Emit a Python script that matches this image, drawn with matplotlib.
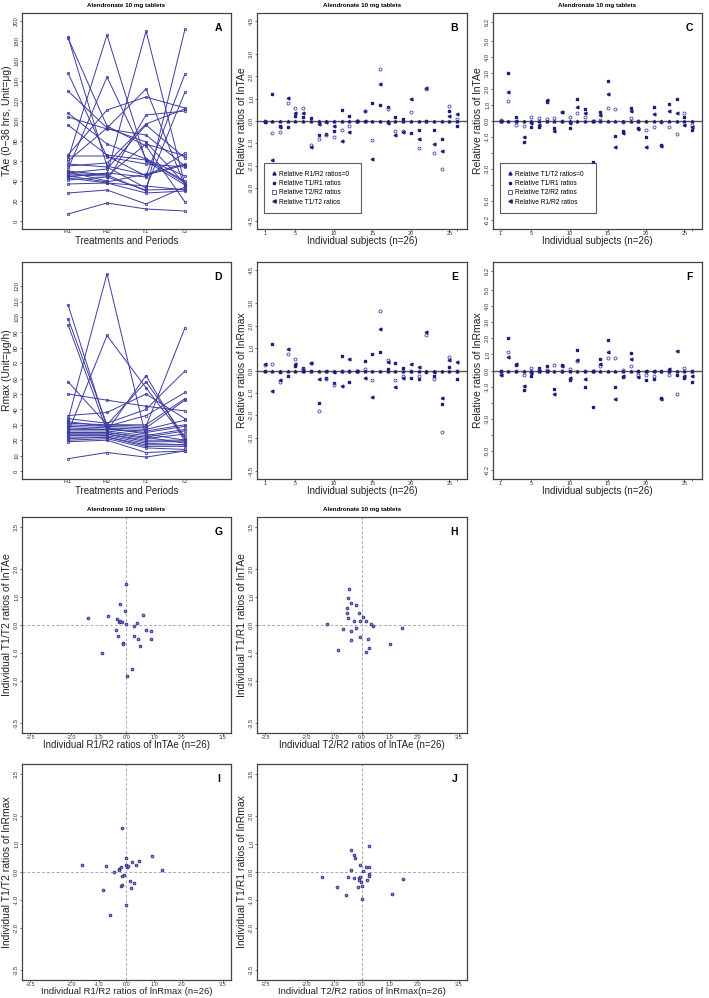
import matplotlib
matplotlib.use('Agg')
import matplotlib.pyplot as plt
from matplotlib.lines import Line2D

plt.rcParams['font.family'] = ['Liberation Sans', 'DejaVu Sans']

# ---------------- data ----------------
periods = ['R1', 'R2', 'T1', 'T2']
subjects = list(range(1, 27))

# Panel A: TAe (0-36 h, ug) per subject and period
tae_R1 = [184, 183, 148, 130, 108, 104, 96, 62, 52, 66, 60, 47, 50, 65, 57, 55, 49, 48, 46, 45, 44, 43, 41, 37, 28, 7]
tae_R2 = [55, 95, 64, 93, 77, 92, 66, 186, 144, 111, 93, 47, 46, 65, 54, 58, 40, 52, 45, 39, 48, 38, 44, 38, 31, 18]
tae_T1 = [46, 75, 57, 79, 62, 86, 61, 60, 62, 124, 132, 190, 30, 45, 33, 97, 106, 96, 77, 47, 44, 35, 31, 28, 17, 12]
tae_T2 = [56, 19, 54, 37, 45, 55, 40, 36, 38, 113, 35, 36, 192, 147, 129, 112, 110, 63, 65, 57, 68, 31, 32, 30, 34, 10]

# Panel D: Rmax (ug/h)
rmax_R1 = [108, 99, 95, 33, 25, 58, 50, 36, 34, 32, 31, 30, 29, 28, 27, 26, 25, 25, 24, 24, 23, 22, 21, 20, 19, 8]
rmax_R2 = [28, 30, 26, 128, 88, 30, 46, 38, 31, 29, 30, 29, 28, 27, 27, 26, 25, 25, 24, 24, 23, 22, 22, 21, 20, 12]
rmax_T1 = [24, 58, 62, 22, 54, 29, 42, 50, 40, 36, 30, 28, 27, 26, 25, 23, 22, 21, 20, 19, 18, 17, 16, 15, 12, 9]
rmax_T2 = [20, 22, 19, 18, 21, 93, 39, 34, 65, 51, 47, 46, 33, 30, 29, 27, 26, 24, 20, 19, 17, 17, 16, 14, 13, 13]

# Panel B: relative ratios of lnTAe (R1/R2 reference = 0)
b_T1R1 = [-0.03, 1.2, -0.22, -0.25, 0.22, 0.16, 0.12, -0.63, -0.58, -0.43, 0.49, 0.24, 0.0, 0.46, 0.82, 0.7, 0.61, 0.19, 0.07, -0.55, -0.4, -0.02, -0.4, -0.82, 0.46, -0.22]
b_T2R2 = [-0.02, -0.55, -0.48, 0.8, 0.6, 0.57, -1.07, -0.82, -0.61, -0.7, -0.4, -0.22, 0.0, 0.45, -0.87, 2.33, 0.52, -0.43, -0.43, 0.42, -1.21, 1.42, -1.45, -2.15, 0.67, 0.07]
b_T1T2 = [-0.04, -1.75, -0.25, 1.05, 0.38, 0.38, -1.18, -0.13, -0.03, -0.22, -0.88, -0.48, 0.0, -0.02, -1.69, 1.64, -0.07, -0.63, -0.48, 1.0, -0.82, 1.46, -1.03, -1.33, 0.22, 0.3]

# Panel C: relative ratios of lnTAe (T1/T2 reference = 0)
c_T1R1 = [0.0, 3.0, 0.27, -1.29, -0.4, -0.4, 1.2, -0.46, 0.58, -0.44, 1.37, 0.73, -2.58, 0.58, 2.52, -0.94, -0.63, 0.79, -0.42, -0.98, 0.85, -1.5, 1.06, 1.37, 0.27, -0.56]
c_T2R2 = [0.06, 1.25, -0.25, -0.31, 0.23, 0.17, 0.1, 0.17, 0.0, 0.27, 0.48, 0.23, 0.0, 0.06, 0.83, 0.75, -0.08, 0.17, 0.0, -0.56, -0.4, -0.04, -0.4, -0.81, 0.48, -0.25]
c_R1R2 = [0.0, 1.79, 0.02, -0.98, -0.1, -0.25, 1.31, -0.62, 0.54, -0.1, 0.9, 0.48, 0.0, 0.38, 1.69, -1.6, -0.73, 0.65, -0.5, -1.6, 0.42, -1.54, 0.65, 0.52, -0.25, -0.35]

# Panel E: relative ratios of lnRmax (R1/R2 reference = 0)
e_T1R1 = [0.0, 1.2, -0.08, -0.23, 0.2, 0.12, 0.0, -1.46, -0.35, -0.56, 0.65, -0.5, 0.0, 0.42, 0.75, 0.83, 0.08, 0.32, 0.12, -0.33, -0.4, -0.06, -0.26, -1.49, 0.15, -0.36]
e_T2R2 = [0.24, 0.27, -0.53, 0.72, 0.5, 0.05, 0.32, -1.83, -0.36, -0.66, -0.03, 0.0, 0.0, 0.08, -0.44, 2.65, 0.47, -0.44, -0.23, -0.03, -0.26, 1.6, -0.36, -2.74, 0.6, 0.0]
e_T1T2 = [0.27, -0.9, -0.44, 0.95, 0.3, -0.03, 0.35, -0.36, 0.0, -0.06, -0.68, 0.53, 0.0, -0.33, -1.19, 1.85, 0.38, -0.75, -0.33, 0.27, 0.15, 1.7, -0.06, -1.23, 0.45, 0.39]

# Panel F: relative ratios of lnRmax (T1/T2 reference = 0)
f_T1R1 = [0.0, 2.04, 0.35, -1.22, -0.33, 0.14, 0.29, -1.12, 0.33, -0.57, 1.27, -1.04, -2.3, 0.71, 1.88, -1.04, -0.41, 1.06, -0.06, -0.57, -0.53, -1.69, 0.0, -0.29, -0.47, -0.73]
f_T2R2 = [-0.2, 1.16, -0.06, -0.27, 0.18, 0.04, 0.02, 0.35, 0.0, 0.08, 0.6, 0.0, 0.0, 0.31, 0.76, 0.8, 0.04, 0.29, -0.27, -0.27, -0.37, -0.06, -0.27, -1.49, 0.14, 0.0]
f_R1R2 = [-0.3, 0.86, 0.41, -0.94, -0.16, 0.0, 0.0, -1.49, 0.29, -0.47, 0.65, -0.51, 0.0, 0.41, 1.16, -1.8, -0.33, 0.71, -0.41, 0.0, -0.06, -1.8, 0.1, 1.22, -0.33, -0.37]

# Panels G-J: individual ratio pairs
g_x = [-1.39, -0.66, -0.36, -0.28, -0.23, -0.16, -0.25, 0.0, 0.27, 0.39, 0.59, 0.70, 0.89, 0.90, -0.38, -0.31, 0.27, 0.42, 0.49, -0.14, -0.11, -0.88, 0.21, 0.03, 0.0, -0.05]
g_y = [0.25, 0.32, 0.23, 0.11, 0.13, 0.11, 0.76, 0.02, -0.04, 0.08, 0.37, -0.19, -0.21, -0.51, -0.19, -0.39, -0.39, -0.51, -0.75, -0.63, -0.69, -0.99, -1.56, -1.82, 1.46, 0.5]
h_x = [-1.27, -0.56, -0.56, -0.51, -0.30, -0.12, -0.06, 0.16, 0.34, 0.39, -0.67, -0.40, -0.22, -0.06, 0.22, -0.39, -0.88, 0.15, 0.27, 1.03, 1.44, -0.46, -0.5, -0.4, -0.2, 0.05]
h_y = [0.02, 0.61, 0.44, 0.26, 0.13, 0.44, 0.14, 0.14, 0.05, -0.03, -0.15, -0.21, -0.11, -0.42, -0.5, -0.54, -0.9, -0.97, -0.83, -0.69, -0.09, 1.27, 0.95, 0.8, 0.7, 0.3]
i_x = [-0.15, -1.6, -0.75, -0.02, 0.19, 0.44, 0.93, 0.34, -0.03, 0.03, -0.2, -0.26, -0.28, -0.44, 1.3, -0.15, -0.08, 0.13, 0.29, -0.2, -0.16, 0.16, -0.87, 0.0, -0.59, 0.05]
i_y = [1.57, 0.26, 0.23, 0.5, 0.35, 0.39, 0.56, 0.24, 0.26, 0.18, 0.18, 0.12, 0.06, 0.0, 0.06, -0.14, -0.12, -0.33, -0.4, -0.51, -0.47, -0.57, -0.63, -1.19, -1.52, 0.2]
j_x = [0.27, -0.4, -0.3, -0.24, -0.06, 0.15, 0.24, -0.39, 0.04, 0.27, 0.24, 0.19, -1.43, -0.52, -0.28, -0.12, -0.07, -0.03, -0.91, -0.15, -0.01, -0.57, 1.09, 0.0, 1.48, -0.1]
j_y = [0.92, 0.77, 0.62, 0.5, 0.26, 0.18, 0.17, 0.08, 0.05, -0.07, -0.15, -0.29, -0.19, -0.19, -0.22, -0.22, -0.17, -0.36, -0.55, -0.55, -0.51, -0.81, -0.79, -0.96, -0.24, -0.3]

# ---------------- styles ----------------
NAVY = '#1f1f7a'
LINEC = '#3c3ca0'
FRAME = '#444444'
TITLE = 'Alendronate 10 mg tablets'
W, H = 709, 998
fig = plt.figure(figsize=(W / 100, H / 100), dpi=100)


def add_ax(x0, y0, x1, y1):
    ax = fig.add_axes([x0 / W, 1 - y1 / H, (x1 - x0) / W, (y1 - y0) / H])
    for s in ax.spines.values():
        s.set_color(FRAME)
        s.set_linewidth(0.9)
    ax.tick_params(length=1.5, width=0.5, pad=0.6, labelsize=4.2, colors='#333333')
    ax.tick_params(axis='x', pad=0.2, labelsize=4.0)
    return ax, (x0, y0, x1, y1)


def ftext(x, y, s, **kw):
    fig.text(x / W, 1 - y / H, s, **kw)


def decorate(ax, box, letter, xlabel, ylabel, title=True, yl_size=7.5, xl_size=7, xl_off=7):
    x0, y0, x1, y1 = box
    if title:
        ftext((x0 + x1) / 2, y0 - 8, TITLE, ha='center', va='center', fontsize=4.5, fontweight='bold')
    ax.text(0.94, 0.93, letter, transform=ax.transAxes, ha='center', va='center',
            fontsize=7.5, fontweight='bold')
    ftext((x0 + x1) / 2, y1 + xl_off, xlabel, ha='center', va='top', fontsize=xl_size, color='#222222')
    ftext(x0 - 15, (y0 + y1) / 2, ylabel, ha='center', va='center', rotation=90, fontsize=yl_size,
          color='#222222')
    for lab in ax.get_yticklabels():
        lab.set_rotation(90)
        lab.set_va('center')


def profile_panel(box_px, series, yticks, ylim, letter, ylabel, title):
    ax, box = add_ax(*box_px)
    xs = [1, 2, 3, 4]
    for vals in zip(*series):
        ax.plot(xs, vals, color=LINEC, lw=0.7, marker='o', ms=1.7, mfc='none', mec=LINEC, mew=0.6)
    ax.set_xlim(-0.18, 5.18)
    ax.set_ylim(*ylim)
    ax.set_xticks(xs)
    ax.set_xticklabels(periods)
    ax.set_yticks(yticks)
    ax.set_yticklabels([str(v) for v in yticks])
    ax.tick_params(axis='x', length=0, pad=0.3, labelsize=4.6)
    decorate(ax, box, letter, 'Treatments and Periods', ylabel, title=title)
    return ax


def ratio_panel(box_px, zero_label, s_dot, s_open, s_tri, labels, yticks, ylabels, ylim, letter, ylabel,
                title, legend):
    ax, box = add_ax(*box_px)
    ax.axhline(0, color='#555555', lw=1.0, zorder=1)
    zeros = [0.0] * len(subjects)
    ax.plot(subjects, s_dot, ls='none', marker='s', ms=1.5, mfc=NAVY, mec=NAVY, zorder=3)
    ax.plot(subjects, s_open, ls='none', marker='o', ms=2.2, mfc='none', mec='#4646aa', mew=0.6, zorder=3)
    ax.plot(subjects, s_tri, ls='none', marker='<', ms=2.0, mfc=NAVY, mec=NAVY, zorder=3)
    ax.plot(subjects, zeros, ls='none', marker='^', ms=1.9, mfc=NAVY, mec=NAVY, zorder=4)
    ax.set_xlim(0.0, 27.3)
    ax.set_ylim(*ylim)
    ax.set_xticks([1, 5, 10, 15, 20, 25, 26])
    ax.set_xticklabels(['1', '5', '10', '15', '20', '25', ''])
    ax.set_yticks(yticks)
    ax.set_yticklabels(ylabels)
    if legend:
        handles = [
            Line2D([], [], ls='none', marker='^', ms=2.2, mfc=NAVY, mec=NAVY),
            Line2D([], [], ls='none', marker='s', ms=1.7, mfc=NAVY, mec=NAVY),
            Line2D([], [], ls='none', marker='s', ms=2.2, mfc='none', mec='#4646aa', mew=0.6),
            Line2D([], [], ls='none', marker='<', ms=2.4, mfc=NAVY, mec=NAVY),
        ]
        leg = ax.legend(handles, [zero_label] + labels, loc='lower left',
                        bbox_to_anchor=(0.033, 0.074, 0.46, 0.213), mode='expand',
                        fontsize=4.8, frameon=True, fancybox=False, borderpad=1.1,
                        labelspacing=0.35, handlelength=0.8, handletextpad=0.4, borderaxespad=0)
        leg.get_frame().set_edgecolor('#333333')
        leg.get_frame().set_linewidth(0.8)
    decorate(ax, box, letter, 'Individual subjects (n=26)', ylabel, title=title)
    return ax


def scatter_panel(box_px, xs, ys, letter, xlabel, ylabel, title, xl_size=7):
    ax, box = add_ax(*box_px)
    ax.axhline(0, color='#aaaaaa', lw=0.7, ls=(0, (3, 2)), zorder=1)
    ax.axvline(0, color='#aaaaaa', lw=0.7, ls=(0, (3, 2)), zorder=1)
    ax.plot(xs, ys, ls='none', marker='o', ms=2.0, mfc='#8080c8', mec='#2a2a88', mew=0.6, zorder=3)
    ax.set_xlim(-3.8, 3.8)
    ax.set_ylim(-3.85, 3.85)
    t = [-3.5, -2.0, -1.0, 0.0, 1.0, 2.0, 3.5]
    ax.set_xticks(t)
    ax.set_xticklabels([f'{v:.1f}' for v in t])
    ax.set_yticks(t)
    ax.set_yticklabels([f'{v:.1f}' for v in t])
    decorate(ax, box, letter, xlabel, ylabel, title=title, yl_size=7.5, xl_size=xl_size)
    return ax


# ---------------- panels ----------------
profile_panel((22, 13, 231, 229), [tae_R1, tae_R2, tae_T1, tae_T2], list(range(0, 201, 20)), (-8, 208),
              'A', 'TAe (0\u221236 hrs, Unit=\u03bcg)', True)
profile_panel((22, 262, 231, 479), [rmax_R1, rmax_R2, rmax_T1, rmax_T2], list(range(0, 121, 10)),
              (-5.2, 135.7), 'D', 'Rmax (Unit=\u03bcg/h)', False)

yt_b = [-4.5, -3.0, -2.0, -1.0, 0.0, 1.0, 2.0, 3.0, 4.5]
yl_b = [f'{v:.1f}' for v in yt_b]
yt_c = [-6.2, -5.0, -4.0, -3.0, -2.0, -1.0, 0.0, 1.0, 2.0, 3.0, 4.0, 5.0, 6.2]
yl_c = ['-6.2', '-5.0', '', '-3.0', '', '-1.0', '0.0', '1.0', '2.0', '3.0', '4.0', '5.0', '6.2']

ratio_panel((257, 13, 467, 229), 'Relative R1/R2 ratios=0', b_T1R1, b_T2R2, b_T1T2,
            ['Relative T1/R1 ratios', 'Relative T2/R2 ratios', 'Relative T1/T2 ratios'],
            yt_b, yl_b, (-4.85, 4.85), 'B', 'Relative ratios of lnTAe', True, True)
ratio_panel((493, 13, 702, 229), 'Relative T1/T2 ratios=0', c_T1R1, c_T2R2, c_R1R2,
            ['Relative T1/R1 ratios', 'Relative T2/R2 ratios', 'Relative R1/R2 ratios'],
            yt_c, yl_c, (-6.75, 6.75), 'C', 'Relative ratios of lnTAe', True, True)
ratio_panel((257, 262, 467, 479), 'Relative R1/R2 ratios=0', e_T1R1, e_T2R2, e_T1T2,
            ['Relative T1/R1 ratios', 'Relative T2/R2 ratios', 'Relative T1/T2 ratios'],
            yt_b, yl_b, (-4.85, 4.85), 'E', 'Relative ratios of lnRmax', False, False)
ratio_panel((493, 262, 702, 479), 'Relative T1/T2 ratios=0', f_T1R1, f_T2R2, f_R1R2,
            ['Relative T1/R1 ratios', 'Relative T2/R2 ratios', 'Relative R1/R2 ratios'],
            yt_c, yl_c, (-6.75, 6.75), 'F', 'Relative ratios of lnRmax', False, False)

scatter_panel((22, 517, 231, 733), g_x, g_y, 'G', 'Individual R1/R2 ratios of lnTAe (n=26)',
              'Individual T1/T2 ratios of lnTAe', True)
scatter_panel((257, 517, 467, 733), h_x, h_y, 'H', 'Individual T2/R2 ratios of lnTAe (n=26)',
              'Individual T1/R1 ratios of lnTAe', True)
scatter_panel((22, 764, 231, 980), i_x, i_y, 'I', 'Individual R1/R2 ratios of lnRmax (n=26)',
              'Individual T1/T2 ratios of lnRmax', False, xl_size=6.8)
scatter_panel((257, 764, 467, 980), j_x, j_y, 'J', 'Individual T2/R2 ratios of lnRmax(n=26)',
              'Individual T1/R1 ratios of lnRmax', False, xl_size=6.8)

fig.savefig('out.png', dpi=100, facecolor='white')
